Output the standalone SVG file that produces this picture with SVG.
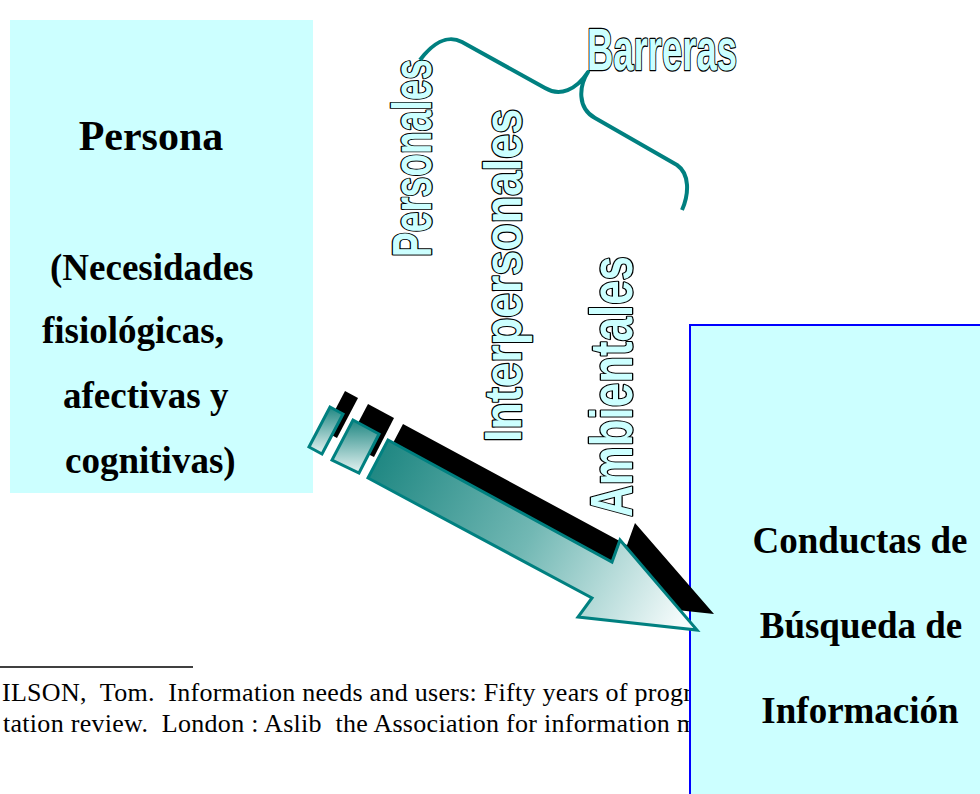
<svg xmlns="http://www.w3.org/2000/svg" width="980" height="794" viewBox="0 0 980 794">
<defs>
<style>
.box{fill:#CCFFFF}
.ser{font-family:"Liberation Serif","Times New Roman",serif;font-weight:bold;fill:#000}
.foot{font-family:"Liberation Serif","Times New Roman",serif;font-size:26px;fill:#000}
.wa{font-family:"Liberation Sans",Arial,sans-serif;font-weight:bold;fill:#CCFFFF;stroke:#000;stroke-width:2.6;stroke-linejoin:round;paint-order:stroke}
.tealstroke{stroke:#008080;stroke-width:3;stroke-linejoin:miter}
.shadow{fill:#000}
</style>
<linearGradient id="gArrow" gradientUnits="userSpaceOnUse" x1="378" y1="455" x2="680" y2="622">
<stop offset="0" stop-color="#1f8782"/>
<stop offset="0.5" stop-color="#72b8b4"/>
<stop offset="1" stop-color="#f4fbfb"/>
</linearGradient>
<linearGradient id="gBlock" x1="0" y1="0" x2="0" y2="1">
<stop offset="0" stop-color="#1f8782"/>
<stop offset="1" stop-color="#e6f4f3"/>
</linearGradient>
</defs>

<g id="footnote">
<line x1="0" y1="667" x2="193" y2="667" stroke="#000" stroke-width="1.5"/>
<text class="foot" x="2" y="701" textLength="690">ILSON,&#160; Tom.&#160; Information needs and users: Fifty years of progr</text>
<text class="foot" x="3" y="732" textLength="694">tation review.&#160; London : Aslib&#160; the Association for information m</text>
</g>

<g id="persona">
<rect class="box" x="10" y="20" width="303" height="473"/>
<text class="ser" x="151" y="150" font-size="42" text-anchor="middle">Persona</text>
<text class="ser" x="50" y="280" font-size="37">(Necesidades</text>
<text class="ser" x="42" y="343" font-size="37">fisiológicas,</text>
<text class="ser" x="63" y="408" font-size="37">afectivas y</text>
<text class="ser" x="65" y="473" font-size="37">cognitivas)</text>
</g>

<g id="conductas">
<rect class="box" x="690" y="325" width="300" height="480" stroke="#0000FF" stroke-width="2"/>
<text class="ser" x="860" y="553" font-size="37" text-anchor="middle">Conductas de</text>
<text class="ser" x="861" y="638" font-size="37" text-anchor="middle">Búsqueda de</text>
<text class="ser" x="860" y="723" font-size="37" text-anchor="middle">Información</text>
</g>

<g id="barreras">
<text class="wa" x="587" y="70" font-size="59" textLength="150" lengthAdjust="spacingAndGlyphs">Barreras</text>
</g>
<g id="personales">
<text class="wa" transform="translate(431,257) rotate(-90)" font-size="55" textLength="198" lengthAdjust="spacingAndGlyphs">Personales</text>
</g>
<g id="interpersonales">
<text class="wa" transform="translate(521,442) rotate(-90)" font-size="51" textLength="333" lengthAdjust="spacingAndGlyphs">Interpersonales</text>
</g>
<g id="ambientales">
<text class="wa" transform="translate(632,517) rotate(-90)" font-size="59" textLength="261" lengthAdjust="spacingAndGlyphs">Ambientales</text>
</g>

<g id="connectors">
<path d="M420,60 C432,44 447,34 462,42 L545,88 C560,97 576,90 588,72 C579,86 577,108 595,118 L677,165 C690,174 689,194 682,210" fill="none" stroke="#008080" stroke-width="4" stroke-linecap="butt" stroke-linejoin="round"/>
<g id="arrow">
<polygon class="shadow" points="345,391 358,398 337,438 324,431"/>
<polygon class="shadow" points="368,404 394,418 374,457 347,444"/>
<polygon class="shadow" points="403,424 627,545 635,523 714,614 593,601 607,582 383,462"/>
<polygon class="tealstroke" fill="url(#gBlock)" points="330,407 343,414 322,454 309,447"/>
<polygon class="tealstroke" fill="url(#gBlock)" points="353,420 379,434 359,473 332,460"/>
<polygon class="tealstroke" fill="url(#gArrow)" points="388,440 612,562 620,540 697,630 578,617 592,598 368,478"/>
</g>
</g>
</svg>
